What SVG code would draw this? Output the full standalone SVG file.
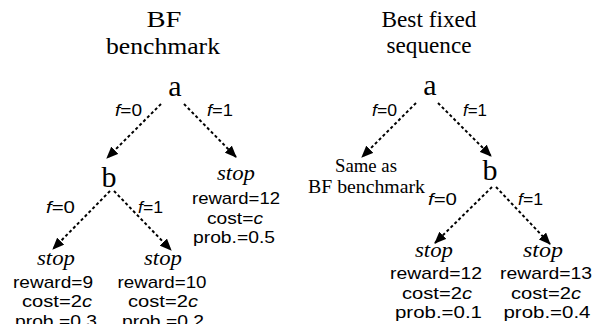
<svg xmlns="http://www.w3.org/2000/svg" width="599" height="324" viewBox="0 0 599 324">
<style>
.ser{font-family:"Liberation Serif","DejaVu Serif",serif;fill:#000;text-anchor:middle}
.ttl{font-size:24px}
.nd{font-size:30px}
.stp{font-size:21px;font-style:italic}
.sm{font-size:18px}
.sn{font-family:"Liberation Sans",Arial,sans-serif;fill:#000;text-anchor:middle;font-size:17px}
.lb{font-family:"Liberation Sans",Arial,sans-serif;fill:#000;text-anchor:middle;font-size:16px}
.it{font-style:italic}
.ed{stroke:#000;stroke-width:2;stroke-dasharray:3 2.5;fill:none;marker-end:url(#ah)}
</style>
<defs>
<marker id="ah" markerUnits="userSpaceOnUse" markerWidth="12" markerHeight="10" refX="11" refY="5" orient="auto">
<path d="M0,0 L12,5 L0,10 z" fill="#000"/>
</marker>
</defs>
<rect width="599" height="324" fill="#fff"/>
<g id="title-left">
<text class="ser ttl" x="164" y="27" textLength="35" lengthAdjust="spacingAndGlyphs">BF</text>
<text class="ser ttl" x="163" y="54" textLength="114" lengthAdjust="spacingAndGlyphs">benchmark</text>
</g>
<g id="title-right">
<text class="ser ttl" x="429" y="27" textLength="95" lengthAdjust="spacingAndGlyphs">Best fixed</text>
<text class="ser ttl" x="429" y="53" textLength="85" lengthAdjust="spacingAndGlyphs">sequence</text>
</g>
<g id="connectors">
<line class="ed" x1="161" y1="104" x2="107" y2="158"/>
<line class="ed" x1="184" y1="104" x2="236" y2="157"/>
<line class="ed" x1="110" y1="191" x2="53" y2="249"/>
<line class="ed" x1="114" y1="191" x2="171" y2="250"/>
<line class="ed" x1="416" y1="103" x2="362" y2="157"/>
<line class="ed" x1="438" y1="103" x2="491" y2="156"/>
<line class="ed" x1="492" y1="187" x2="435" y2="243"/>
<line class="ed" x1="496" y1="187" x2="550" y2="244"/>
</g>
<g id="labels">
<text class="lb" x="128.5" y="116" textLength="27" lengthAdjust="spacingAndGlyphs"><tspan class="it">f</tspan>=0</text>
<text class="lb" x="220" y="116" textLength="26" lengthAdjust="spacingAndGlyphs"><tspan class="it">f</tspan>=1</text>
<text class="lb" x="60.5" y="213" textLength="29" lengthAdjust="spacingAndGlyphs"><tspan class="it">f</tspan>=0</text>
<text class="lb" x="150.5" y="213" textLength="25" lengthAdjust="spacingAndGlyphs"><tspan class="it">f</tspan>=1</text>
<text class="lb" x="384.5" y="116" textLength="25" lengthAdjust="spacingAndGlyphs"><tspan class="it">f</tspan>=0</text>
<text class="lb" x="475" y="116" textLength="24" lengthAdjust="spacingAndGlyphs"><tspan class="it">f</tspan>=1</text>
<text class="lb" x="442.5" y="205" textLength="29" lengthAdjust="spacingAndGlyphs"><tspan class="it">f</tspan>=0</text>
<text class="lb" x="530.5" y="205" textLength="25" lengthAdjust="spacingAndGlyphs"><tspan class="it">f</tspan>=1</text>
</g>
<g id="L-a"><text class="ser nd" x="175" y="96">a</text></g>
<g id="L-b"><text class="ser nd" x="109" y="187">b</text></g>
<g id="L-stop1">
<text class="ser stp" x="236" y="180" textLength="38" lengthAdjust="spacingAndGlyphs">stop</text>
<text class="sn" x="236" y="204" textLength="88" lengthAdjust="spacingAndGlyphs">reward=12</text>
<text class="sn" x="235" y="224" textLength="56" lengthAdjust="spacingAndGlyphs">cost=<tspan class="it">c</tspan></text>
<text class="sn" x="234" y="243" textLength="82" lengthAdjust="spacingAndGlyphs">prob.=0.5</text>
</g>
<g id="L-stop2">
<text class="ser stp" x="56" y="265" textLength="38" lengthAdjust="spacingAndGlyphs">stop</text>
<text class="sn" x="53" y="288" textLength="80" lengthAdjust="spacingAndGlyphs">reward=9</text>
<text class="sn" x="57" y="307" textLength="70" lengthAdjust="spacingAndGlyphs">cost=2<tspan class="it">c</tspan></text>
<text class="sn" x="56" y="327" textLength="82" lengthAdjust="spacingAndGlyphs">prob.=0.3</text>
</g>
<g id="L-stop3">
<text class="ser stp" x="163" y="265" textLength="38" lengthAdjust="spacingAndGlyphs">stop</text>
<text class="sn" x="162" y="288" textLength="89" lengthAdjust="spacingAndGlyphs">reward=10</text>
<text class="sn" x="163" y="307" textLength="70" lengthAdjust="spacingAndGlyphs">cost=2<tspan class="it">c</tspan></text>
<text class="sn" x="163" y="327" textLength="82" lengthAdjust="spacingAndGlyphs">prob.=0.2</text>
</g>
<g id="R-a"><text class="ser nd" x="430" y="95">a</text></g>
<g id="R-same">
<text class="ser sm" x="366" y="172" textLength="62" lengthAdjust="spacingAndGlyphs">Same as</text>
<text class="ser sm" x="366.5" y="193" textLength="117" lengthAdjust="spacingAndGlyphs">BF benchmark</text>
</g>
<g id="R-b"><text class="ser nd" x="490" y="180">b</text></g>
<g id="R-stop1">
<text class="ser stp" x="434" y="257" textLength="38" lengthAdjust="spacingAndGlyphs">stop</text>
<text class="sn" x="436" y="279" textLength="92" lengthAdjust="spacingAndGlyphs">reward=12</text>
<text class="sn" x="437" y="299" textLength="70" lengthAdjust="spacingAndGlyphs">cost=2<tspan class="it">c</tspan></text>
<text class="sn" x="438.5" y="318" textLength="87" lengthAdjust="spacingAndGlyphs">prob.=0.1</text>
</g>
<g id="R-stop2">
<text class="ser stp" x="543" y="257" textLength="40" lengthAdjust="spacingAndGlyphs">stop</text>
<text class="sn" x="546" y="279" textLength="92" lengthAdjust="spacingAndGlyphs">reward=13</text>
<text class="sn" x="546" y="299" textLength="70" lengthAdjust="spacingAndGlyphs">cost=2<tspan class="it">c</tspan></text>
<text class="sn" x="547" y="318" textLength="87" lengthAdjust="spacingAndGlyphs">prob.=0.4</text>
</g>
</svg>
